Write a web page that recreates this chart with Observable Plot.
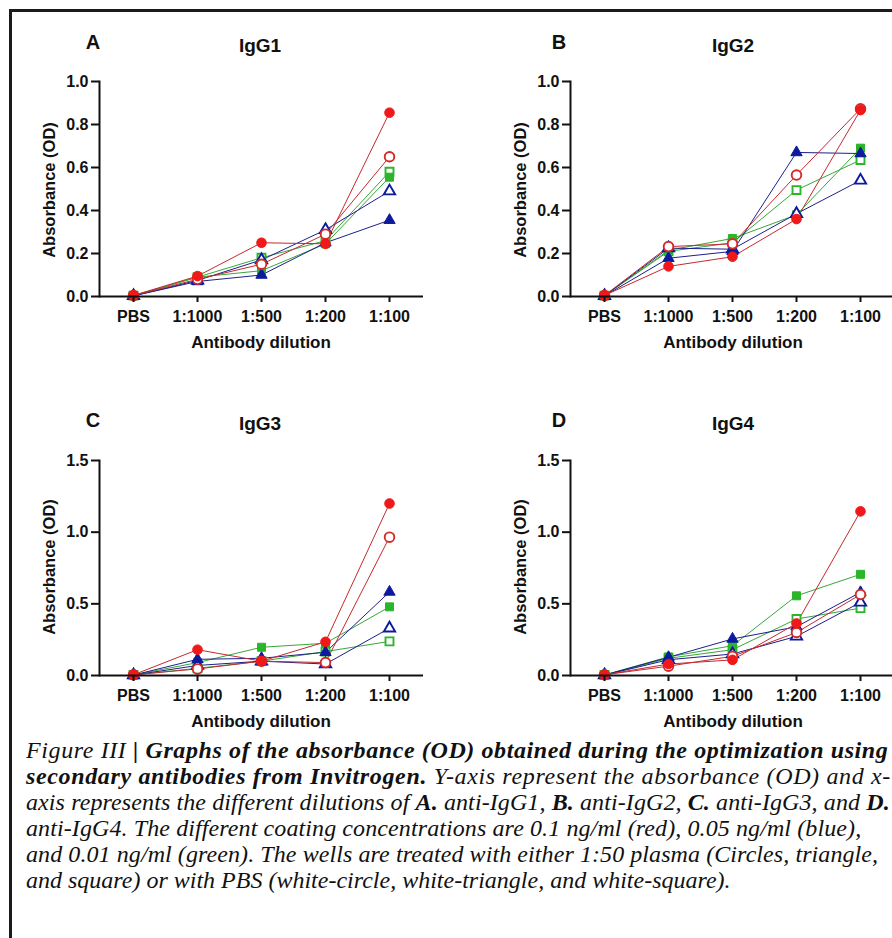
<!DOCTYPE html>
<html>
<head>
<meta charset="utf-8">
<script src="https://cdn.jsdelivr.net/npm/d3@7"></script>
<script src="https://cdn.jsdelivr.net/npm/@observablehq/plot@0.6"></script>
<style>
html, body { margin: 0; padding: 0; background: #fff; }
body { width: 892px; height: 938px; overflow: hidden; position: relative; font-family: "Liberation Sans", Arial, sans-serif; }
#border { position: absolute; left: 9px; top: 9px; width: 1000px; height: 1000px; border-left: 3px solid #1b1b1b; border-top: 3px solid #1b1b1b; }
.panel { position: absolute; width: 446px; height: 360px; }
.panel svg { max-width: none !important; width: 446px; height: 360px; }
.lbl { position: absolute; transform: translate(-50%, -50%); white-space: nowrap; font-weight: bold; color: #111; }
.ylbl { transform: translate(-50%, -50%) rotate(-90deg); }
#caption { position: absolute; left: 26px; top: 737px; font-family: "Liberation Serif", "Times New Roman", serif; font-style: italic; font-size: 24px; line-height: 26px; white-space: nowrap; color: #111; }
#caption div { height: 26px; }
#caption b { font-weight: bold; }
</style>
</head>
<body>
<div id="border"></div>
<div id="root"></div>
<div id="caption">
<div style="letter-spacing:0.6px">Figure III <b>| Graphs of the absorbance (OD) obtained during the optimization using</b></div>
<div style="letter-spacing:0.64px"><b>secondary antibodies from Invitrogen.</b> Y-axis represent the absorbance (OD) and x-</div>
<div style="letter-spacing:0.1px">axis represents the different dilutions of <b>A.</b> anti-IgG1, <b>B.</b> anti-IgG2, <b>C.</b> anti-IgG3, and <b>D.</b></div>
<div style="letter-spacing:0.1px">anti-IgG4. The different coating concentrations are 0.1 ng/ml (red), 0.05 ng/ml (blue),</div>
<div style="letter-spacing:0.08px">and 0.01 ng/ml (green). The wells are treated with either 1:50 plasma (Circles, triangle,</div>
<div>and square) or with PBS (white-circle, white-triangle, and white-square).</div>
</div>
<script>
// ---------- data ----------
const dilutions = ["PBS", "1:1000", "1:500", "1:200", "1:100"];
const panelNames = ["IgG1", "IgG2", "IgG3", "IgG4"];
const panelLetters = ["A", "B", "C", "D"];
const yMaxes = [1.0, 1.0, 1.5, 1.5];
const ticksSmall = [0, 0.2, 0.4, 0.6, 0.8, 1.0];
const ticksLarge = [0, 0.5, 1.0, 1.5];
const xTitle = "Antibody dilution";
const yTitle = "Absorbance (OD)";

// IgG1
const IgG1_red_plasma   = [0.005, 0.095, 0.25, 0.245, 0.855];
const IgG1_red_pbs      = [0.005, 0.08, 0.15, 0.29, 0.65];
const IgG1_blue_plasma  = [0.003, 0.07, 0.10, 0.25, 0.355];
const IgG1_blue_pbs     = [0.003, 0.075, 0.17, 0.31, 0.49];
const IgG1_green_plasma = [0.004, 0.09, 0.12, 0.245, 0.555];
const IgG1_green_pbs    = [0.004, 0.09, 0.18, 0.26, 0.58];
// IgG2
const IgG2_red_plasma   = [0.005, 0.14, 0.185, 0.36, 0.867];
const IgG2_red_pbs      = [0.005, 0.232, 0.245, 0.565, 0.873];
const IgG2_blue_plasma  = [0.003, 0.178, 0.21, 0.67, 0.665];
const IgG2_blue_pbs     = [0.003, 0.225, 0.22, 0.385, 0.54];
const IgG2_green_plasma = [0.004, 0.215, 0.27, 0.38, 0.69];
const IgG2_green_pbs    = [0.004, 0.21, 0.25, 0.495, 0.635];
// IgG3
const IgG3_red_plasma   = [0.005, 0.18, 0.10, 0.235, 1.2];
const IgG3_red_pbs      = [0.005, 0.046, 0.10, 0.09, 0.965];
const IgG3_blue_plasma  = [0.003, 0.113, 0.12, 0.162, 0.583];
const IgG3_blue_pbs     = [0.003, 0.07, 0.10, 0.08, 0.33];
const IgG3_green_plasma = [0.004, 0.09, 0.197, 0.225, 0.479];
const IgG3_green_pbs    = [0.004, 0.05, 0.10, 0.167, 0.238];
// IgG4
const IgG4_red_plasma   = [0.005, 0.08, 0.109, 0.363, 1.145];
const IgG4_red_pbs      = [0.005, 0.065, 0.134, 0.30, 0.565];
const IgG4_blue_plasma  = [0.003, 0.127, 0.255, 0.34, 0.58];
const IgG4_blue_pbs     = [0.003, 0.11, 0.15, 0.273, 0.51];
const IgG4_green_plasma = [0.004, 0.13, 0.208, 0.556, 0.706];
const IgG4_green_pbs    = [0.004, 0.12, 0.18, 0.394, 0.47];

const panelSeries = {
  IgG1: {red_plasma: IgG1_red_plasma, red_pbs: IgG1_red_pbs, blue_plasma: IgG1_blue_plasma, blue_pbs: IgG1_blue_pbs, green_plasma: IgG1_green_plasma, green_pbs: IgG1_green_pbs},
  IgG2: {red_plasma: IgG2_red_plasma, red_pbs: IgG2_red_pbs, blue_plasma: IgG2_blue_plasma, blue_pbs: IgG2_blue_pbs, green_plasma: IgG2_green_plasma, green_pbs: IgG2_green_pbs},
  IgG3: {red_plasma: IgG3_red_plasma, red_pbs: IgG3_red_pbs, blue_plasma: IgG3_blue_plasma, blue_pbs: IgG3_blue_pbs, green_plasma: IgG3_green_plasma, green_pbs: IgG3_green_pbs},
  IgG4: {red_plasma: IgG4_red_plasma, red_pbs: IgG4_red_pbs, blue_plasma: IgG4_blue_plasma, blue_pbs: IgG4_blue_pbs, green_plasma: IgG4_green_plasma, green_pbs: IgG4_green_pbs}
};

// ---------- styles ----------
const markerColor = {red: "#f01818", blue: "#0d1a9e", green: "#2ab52a"};
const openColor = {red: "#d42a2a", blue: "#0d1a9e", green: "#2ab52a"};
const lineColor = {red: "#c42a2e", blue: "#1d1f8c", green: "#37a837"};
const symbolOf = {red: "circle", blue: "triangle", green: "square"};
const radiusOf = {red: 4.8, blue: 4.2, green: 4.5};
const drawOrder = ["green", "blue", "red"];

// panel geometry
const layout = [
  {left: 0, top: 0}, {left: 471, top: 0}, {left: 0, top: 379}, {left: 471, top: 379}
];
const textPos = [
  {letter: [93, 42], title: [260, 46], y: [49, 190], x: [261, 343]},
  {letter: [559, 42], title: [733, 46], y: [520, 190], x: [733, 343]},
  {letter: [93, 420], title: [260, 424], y: [49, 567], x: [261, 722]},
  {letter: [559, 420], title: [733, 424], y: [520, 567], x: [733, 722]}
];

const root = document.getElementById("root");

function addLabel(text, pos, size, cls) {
  const d = document.createElement("div");
  d.className = "lbl" + (cls ? " " + cls : "");
  d.textContent = text;
  d.style.left = pos[0] + "px";
  d.style.top = pos[1] + "px";
  d.style.fontSize = size + "px";
  root.appendChild(d);
}

panelNames.forEach((name, pi) => {
  const s = panelSeries[name];
  const lineMarks = [];
  const dotMarks = [];
  for (const c of drawOrder) {
    for (const t of ["pbs", "plasma"]) {
      const rows = s[c + "_" + t].map((v, i) => ({dilution: dilutions[i], od: v}));
      lineMarks.push(Plot.line(rows, {x: "dilution", y: "od", stroke: lineColor[c], strokeWidth: 1}));
    }
  }
  for (const c of drawOrder) {
    for (const t of ["pbs", "plasma"]) {
      const rows = s[c + "_" + t].map((v, i) => ({dilution: dilutions[i], od: v}));
      const open = t === "pbs";
      dotMarks.push(Plot.dot(rows, {
        x: "dilution", y: "od",
        symbol: () => symbolOf[c],
        r: radiusOf[c],
        fill: open ? "white" : markerColor[c],
        stroke: open ? openColor[c] : markerColor[c],
        strokeWidth: open ? 1.9 : 1
      }));
    }
  }
  const yMax = yMaxes[pi];
  const chart = Plot.plot({
    width: 446, height: 360,
    marginLeft: 99, marginRight: 23, marginTop: 81, marginBottom: 64,
    x: {type: "point", domain: dilutions, padding: 0.5, label: null},
    y: {domain: [0, yMax], label: null},
    symbol: {type: "identity"},
    style: {fontFamily: "'Liberation Sans', Arial, sans-serif", fontSize: "16px", fontWeight: "bold", color: "#111", background: "transparent", overflow: "visible"},
    marks: [
      ...lineMarks,
      ...dotMarks,
      Plot.ruleY([0], {stroke: "#111", strokeWidth: 2}),
      Plot.frame({anchor: "left", stroke: "#111", strokeWidth: 2}),
      Plot.axisY({ticks: yMax > 1 ? ticksLarge : ticksSmall, tickSize: 8, tickPadding: 3, tickFormat: d3.format(".1f"), stroke: "#111", strokeWidth: 2, fontSize: 16, fontWeight: "bold", fill: "#111", label: null}),
      Plot.axisX({tickSize: 6, tickPadding: 8, stroke: "#111", strokeWidth: 2, fontSize: 16, fontWeight: "bold", fill: "#111", label: null})
    ]
  });
  const wrap = document.createElement("div");
  wrap.className = "panel";
  wrap.style.left = layout[pi].left + "px";
  wrap.style.top = layout[pi].top + "px";
  wrap.appendChild(chart);
  root.appendChild(wrap);

  const tp = textPos[pi];
  addLabel(panelLetters[pi], tp.letter, 20);
  addLabel(name, tp.title, 19);
  addLabel(yTitle, tp.y, 16.5, "ylbl");
  addLabel(xTitle, tp.x, 17);
});
</script>
</body>
</html>
